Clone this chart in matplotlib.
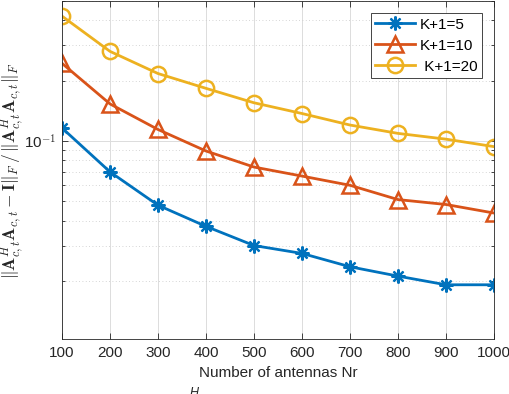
import matplotlib.pyplot as plt
import numpy as np
from matplotlib.ticker import LogLocator, NullFormatter, FixedLocator

plt.rcParams['font.family'] = ['Liberation Sans', 'DejaVu Sans']
plt.rcParams['mathtext.fontset'] = 'cm'

# dados
nr = [100, 200, 300, 400, 500, 600, 700, 800, 900, 1000]
k5 = [0.116, 0.070, 0.0477, 0.0374, 0.030, 0.0274, 0.0235, 0.0211, 0.0191, 0.0191]
k10 = [0.244, 0.153, 0.114, 0.089, 0.074, 0.0667, 0.060, 0.0509, 0.0481, 0.0436]
k20 = [0.42, 0.280, 0.217, 0.183, 0.155, 0.137, 0.120, 0.109, 0.102, 0.0936]
labels = ['K+1=5', 'K+1=10', ' K+1=20']

fig = plt.figure(figsize=(5.1, 3.94), dpi=100)
ax = fig.add_axes([0.1216, 0.1388, 0.8470, 0.8587])

ax.plot(nr, k5, '-', marker=(8, 2, 0), color='#0072BD', lw=2, ms=10, mew=1.6, label=labels[0])
ax.plot(nr, k10, '-^', color='#D95319', lw=2, ms=11, mew=1.8, mfc='none', label=labels[1])
ax.plot(nr, k20, '-o', color='#EDB120', lw=2, ms=11, mew=1.8, mfc='none', label=labels[2])

ax.set_yscale('log')
ax.set_xlim(100, 1000)
ax.set_ylim(0.0102, 0.5)
ax.set_xticks(nr)
ax.set_xticklabels([str(v) for v in nr])
ax.yaxis.set_major_locator(FixedLocator([0.1]))
ax.yaxis.set_minor_locator(LogLocator(base=10, subs=np.arange(2, 10)))
ax.yaxis.set_minor_formatter(NullFormatter())
ax.set_yticklabels([r'10$^{\mathsf{-1}}$'])

ax.tick_params(which='both', direction='in', top=True, right=True,
               labelsize=11, colors='#262626', width=0.6)
ax.tick_params(which='major', length=4, pad=5)
ax.tick_params(axis='y', which='major', pad=4)
ax.tick_params(which='minor', length=2.5)
for sp in ax.spines.values():
    sp.set_color('#262626')
    sp.set_linewidth(0.6)

ax.grid(True, which='major', color='#dcdcdc', lw=0.7, ls='-')
ax.grid(True, which='minor', axis='y', color='#c8c8c8', lw=0.6, ls=(0, (1, 3)))
ax.set_axisbelow(True)

ax.set_xlabel('Number of antennas Nr', fontsize=11, color='#262626', labelpad=4)
ax.set_ylabel(r'$\|\mathbf{A}_{c,t}^H\mathbf{A}_{c,t}-\mathbf{I}\|_F\,/\,\|\mathbf{A}_{c,t}^H\mathbf{A}_{c,t}\|_F$',
              fontsize=12.5, color='#262626', va='center')
ax.yaxis.set_label_coords(-0.115, 0.5)

leg = ax.legend(loc='upper right', fontsize=11, fancybox=False, framealpha=1,
                edgecolor='#262626', borderpad=0.3, labelspacing=0.45,
                handlelength=2.6, handletextpad=0.3, borderaxespad=0.8)
leg.get_frame().set_linewidth(0.6)

# pedaço de texto cortado na borda inferior da figura original
fig.text(0.372, 7 / 394, 'H', fontsize=9, style='italic', color='#262626', va='top')

fig.savefig('out.png', dpi=100)
